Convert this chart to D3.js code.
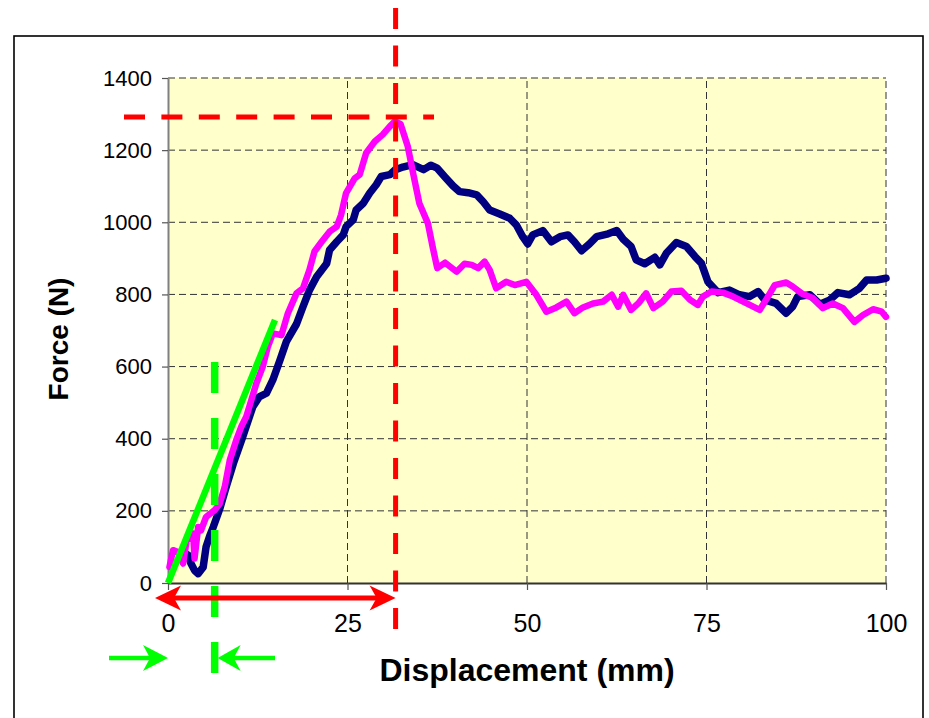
<!DOCTYPE html>
<html>
<head>
<meta charset="utf-8">
<script src="https://cdn.jsdelivr.net/npm/d3@7"></script>
<style>
  html, body { margin: 0; padding: 0; background: #fff; }
  svg { display: block; font-family: "Liberation Sans", Arial, sans-serif; }
</style>
</head>
<body>
<svg id="chart" width="929" height="718"></svg>
<script>
// Force–displacement curves of two test specimens
const xTicks = [0, 25, 50, 75, 100];
const yTicks = [0, 200, 400, 600, 800, 1000, 1200, 1400];

// Specimen A (navy)
const specimenADisp = [2.4, 2.8, 3.2, 3.7, 4.2, 4.9, 5.3, 5.8, 6.3, 7.2, 8.1, 9.1, 10.4, 11.8, 12.7, 13.7, 14.6, 15.6, 16.5, 17.9, 18.8, 19.7, 20.7, 22.1, 22.5, 23.5, 24.4, 24.8, 25.8, 26.2, 27.2, 28.1, 29.0, 29.7, 30.9, 31.6, 32.7, 34.1, 35.6, 36.6, 37.5, 38.6, 39.7, 40.6, 41.8, 43.0, 43.9, 44.8, 46.2, 47.6, 48.5, 49.4, 50.1, 50.8, 52.2, 53.4, 54.6, 55.7, 56.6, 57.6, 58.7, 59.7, 61.3, 62.5, 63.4, 64.5, 65.2, 66.4, 67.8, 68.5, 69.4, 70.8, 72.2, 73.4, 74.3, 75.2, 76.6, 78.2, 79.6, 81.0, 82.2, 83.1, 84.7, 86.1, 87.0, 87.7, 89.4, 90.8, 92.2, 93.3, 94.9, 96.3, 97.3, 98.7, 100];
const specimenAForce = [82, 77, 54, 35, 26, 44, 100, 130, 155, 205, 266, 331, 405, 488, 516, 526, 563, 618, 670, 718, 766, 812, 849, 886, 923, 946, 965, 988, 1007, 1034, 1053, 1081, 1104, 1127, 1132, 1145, 1153, 1160, 1146, 1158, 1150, 1125, 1101, 1085, 1082, 1076, 1057, 1034, 1023, 1011, 993, 960, 940, 965, 977, 946, 960, 965, 946, 921, 940, 960, 968, 977, 953, 933, 896, 885, 903, 882, 914, 944, 933, 905, 886, 835, 805, 812, 799, 794, 808, 785, 775, 748, 766, 794, 799, 773, 785, 805, 799, 817, 840, 840, 845];

// Specimen B (magenta)
const specimenBDisp = [0.2, 0.7, 1.4, 2.1, 2.6, 3.5, 3.7, 4.2, 4.6, 5.3, 6.5, 7.2, 7.9, 8.6, 9.5, 10.2, 10.9, 11.6, 12.3, 13.2, 13.9, 14.6, 15.8, 16.7, 17.9, 18.8, 19.7, 20.4, 21.4, 22.5, 23.5, 24.1, 24.8, 26.0, 26.7, 27.6, 28.8, 29.9, 30.9, 31.6, 32.4, 33.4, 34.2, 35.0, 36.2, 36.9, 37.5, 38.6, 40.2, 41.3, 42.3, 43.2, 44.1, 44.8, 45.7, 47.1, 48.3, 49.9, 51.3, 52.7, 54.1, 55.5, 56.6, 57.8, 59.2, 60.6, 61.8, 62.7, 63.4, 64.5, 65.5, 66.6, 67.6, 68.9, 70.1, 71.5, 72.7, 73.8, 74.5, 75.7, 77.3, 78.7, 80.6, 82.4, 83.3, 84.5, 86.1, 87.0, 88.4, 89.8, 91.2, 92.6, 94.0, 95.6, 96.8, 98.2, 99.4, 100];
const specimenBForce = [44, 91, 86, 54, 118, 137, 68, 155, 146, 183, 202, 220, 266, 340, 396, 433, 461, 507, 553, 600, 655, 692, 687, 748, 803, 817, 868, 919, 946, 974, 988, 1020, 1081, 1122, 1132, 1192, 1224, 1243, 1266, 1280, 1272, 1210, 1130, 1053, 997, 928, 873, 888, 863, 885, 882, 873, 891, 868, 817, 835, 826, 835, 799, 752, 764, 780, 748, 764, 775, 780, 799, 766, 799, 757, 775, 803, 762, 780, 808, 810, 785, 771, 794, 808, 805, 794, 775, 757, 785, 826, 833, 822, 801, 790, 762, 775, 762, 724, 743, 759, 752, 738];

// Annotation values (mm, N)
const peakDisp = 31.7;
const peakForce = 1292;
const stiffnessEnd = [14.9, 729];
const offsetDisp = 6.5;

const svg = d3.select("#chart");

const x = d3.scaleLinear().domain([0, 100]).range([168, 886]);
const y = d3.scaleLinear().domain([0, 1400]).range([583, 78]);

// outer frame
svg.append("rect")
  .attr("x", 14).attr("y", 36).attr("width", 909).attr("height", 720)
  .attr("fill", "#fff").attr("stroke", "#000").attr("stroke-width", 1.6);

// plot area
svg.append("rect")
  .attr("x", x(0)).attr("y", y(1400))
  .attr("width", x(100) - x(0)).attr("height", y(0) - y(1400))
  .attr("fill", "#FFFFCC");

// gridlines
const grid = svg.append("g").attr("stroke", "#333").attr("stroke-width", 1).attr("stroke-dasharray", "7,4");
grid.selectAll("line.h").data(yTicks.filter(d => d > 0)).join("line")
  .attr("x1", x(0)).attr("x2", x(100))
  .attr("y1", d => y(d)).attr("y2", d => y(d));
grid.selectAll("line.v").data(xTicks.filter(d => d > 0)).join("line")
  .attr("y1", y(0)).attr("y2", y(1400))
  .attr("x1", d => x(d)).attr("x2", d => x(d));

// axes
const yAxis = svg.append("g")
  .attr("transform", `translate(${x(0)},0)`)
  .call(d3.axisLeft(y).tickValues(yTicks).tickFormat(d3.format("d"))
    .tickSize(6).tickSizeOuter(0).tickPadding(10));
yAxis.select(".domain").attr("stroke", "#808080").attr("stroke-width", 2);
yAxis.selectAll(".tick line").attr("stroke", "#555").attr("stroke-width", 1.2);
yAxis.selectAll(".tick text").attr("font-size", 22).attr("fill", "#000")
  .attr("font-family", "Liberation Sans, Arial, sans-serif");

const xAxis = svg.append("g")
  .attr("transform", `translate(0,${y(0)})`)
  .call(d3.axisBottom(x).tickValues(xTicks).tickFormat(d3.format("d"))
    .tickSize(7).tickSizeOuter(0).tickPadding(24));
xAxis.select(".domain").attr("stroke", "#333").attr("stroke-width", 2);
xAxis.selectAll(".tick line").attr("stroke", "#555").attr("stroke-width", 1.2);
xAxis.selectAll(".tick text").attr("font-size", 25).attr("fill", "#000")
  .attr("font-family", "Liberation Sans, Arial, sans-serif");

// axis titles
svg.append("text")
  .attr("transform", "translate(68,339) rotate(-90)")
  .attr("text-anchor", "middle")
  .attr("font-size", 28).attr("font-weight", "bold")
  .text("Force (N)");
svg.append("text")
  .attr("x", 527).attr("y", 681)
  .attr("text-anchor", "middle")
  .attr("font-size", 32).attr("font-weight", "bold")
  .text("Displacement (mm)");

// curves
const line = d3.line().x(d => x(d[0])).y(d => y(d[1]));
const seriesA = specimenADisp.map((d, i) => [d, specimenAForce[i]]);
const seriesB = specimenBDisp.map((d, i) => [d, specimenBForce[i]]);

svg.append("path").datum(seriesA).attr("d", line)
  .attr("fill", "none").attr("stroke", "#000080").attr("stroke-width", 7.5)
  .attr("stroke-linejoin", "round").attr("stroke-linecap", "round");
svg.append("path").datum(seriesB).attr("d", line)
  .attr("fill", "none").attr("stroke", "#FF00FF").attr("stroke-width", 6.5)
  .attr("stroke-linejoin", "round").attr("stroke-linecap", "round");

// initial stiffness line
svg.append("line")
  .attr("x1", x(0)).attr("y1", y(0))
  .attr("x2", x(stiffnessEnd[0])).attr("y2", y(stiffnessEnd[1]))
  .attr("stroke", "#00FF00").attr("stroke-width", 6.5);

// offset marker (green dashed)
svg.append("line")
  .attr("x1", x(offsetDisp)).attr("x2", x(offsetDisp))
  .attr("y1", 362).attr("y2", 673)
  .attr("stroke", "#00FF00").attr("stroke-width", 7.5)
  .attr("stroke-dasharray", "31,25");

// peak markers (red dashed)
svg.append("line")
  .attr("x1", x(peakDisp)).attr("x2", x(peakDisp))
  .attr("y1", 8).attr("y2", 629)
  .attr("stroke", "#FF0000").attr("stroke-width", 5)
  .attr("stroke-dasharray", "21,16.5");
svg.append("line")
  .attr("x1", 124).attr("x2", 434)
  .attr("y1", y(peakForce)).attr("y2", y(peakForce))
  .attr("stroke", "#FF0000").attr("stroke-width", 5)
  .attr("stroke-dasharray", "21,16.4");

// arrow heads: tip at (tx,ty), pointing in direction dir (+1 right, -1 left)
function head(tx, ty, dir, len, half, notch) {
  return `M${tx},${ty} L${tx - dir * len},${ty - half} L${tx - dir * (len - notch)},${ty} L${tx - dir * len},${ty + half} Z`;
}

// red double arrow: 0 to peak displacement
const redY = 598;
const redL = x(0) - 13, redR = x(peakDisp);
svg.append("line").attr("x1", redL + 15).attr("x2", redR - 15)
  .attr("y1", redY).attr("y2", redY).attr("stroke", "#FF0000").attr("stroke-width", 5);
svg.append("path").attr("d", head(redL, redY, -1, 26, 12.5, 7)).attr("fill", "#FF0000");
svg.append("path").attr("d", head(redR, redY, 1, 26, 12.5, 7)).attr("fill", "#FF0000");

// green arrows framing the offset
const gY = 658;
svg.append("line").attr("x1", 109).attr("x2", x(0) - 15)
  .attr("y1", gY).attr("y2", gY).attr("stroke", "#00FF00").attr("stroke-width", 4.5);
svg.append("path").attr("d", head(x(0), gY, 1, 25, 13, 7)).attr("fill", "#00FF00");
svg.append("line").attr("x1", x(offsetDisp) + 18).attr("x2", 275)
  .attr("y1", gY).attr("y2", gY).attr("stroke", "#00FF00").attr("stroke-width", 4.5);
svg.append("path").attr("d", head(x(offsetDisp) + 3, gY, -1, 23, 13, 7)).attr("fill", "#00FF00");
</script>
</body>
</html>
